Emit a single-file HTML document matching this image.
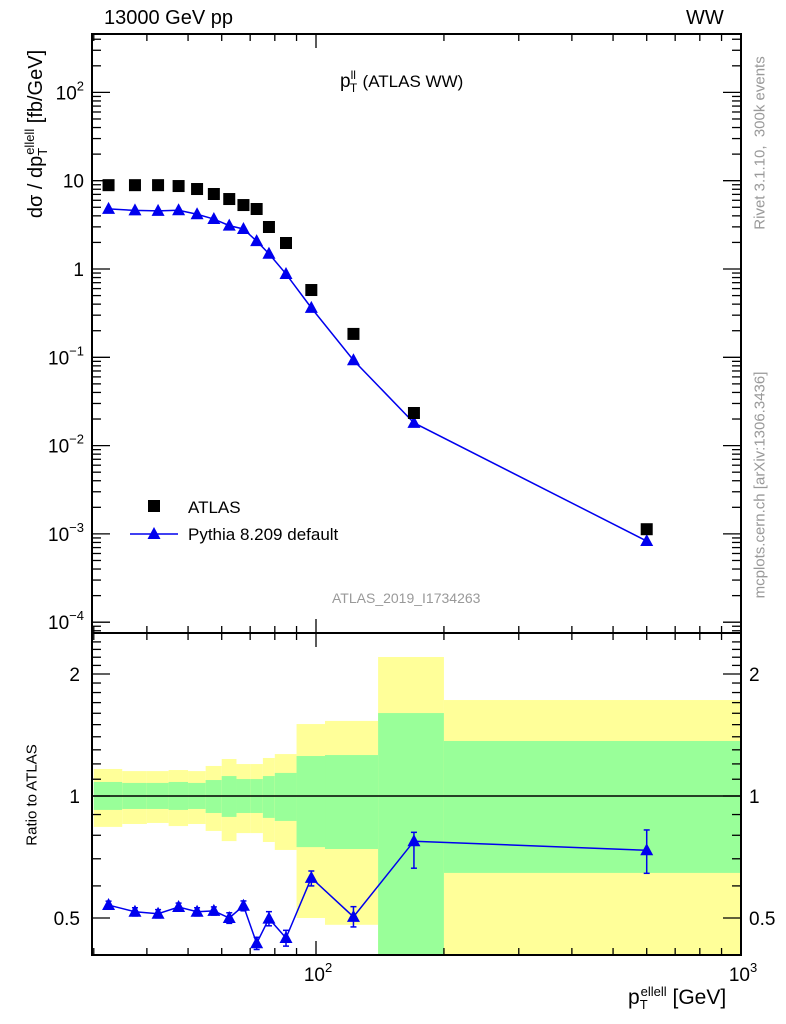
<!DOCTYPE html>
<html><head><meta charset="utf-8"><style>
body{margin:0;background:#fff;}
svg{display:block;font-family:"Liberation Sans",sans-serif;}
</style></head><body>
<svg id="c" width="786" height="1024" viewBox="0 0 786 1024" xmlns="http://www.w3.org/2000/svg"></svg>
<script>
const binEdges=[30,35,40,45,50,55,60,65,70,75,80,90,105,140,200,1000];
const atlasValues=[8.9,8.9,8.9,8.7,8.05,7.07,6.2,5.3,4.78,2.99,1.97,0.578,0.184,0.0234,0.00113];
const pythiaValues=[4.79,4.61,4.56,4.63,4.17,3.68,3.1,2.84,2.07,1.49,0.879,0.363,0.0926,0.0181,0.00083];
const ratioErrUp=[0.012,0.012,0.012,0.012,0.012,0.012,0.015,0.015,0.015,0.02,0.02,0.025,0.03,0.04,0.09];
const ratioErrDn=[0.012,0.012,0.012,0.012,0.012,0.012,0.015,0.015,0.015,0.02,0.02,0.028,0.028,0.11,0.09];
const yellowHi=[1.166,1.152,1.152,1.159,1.152,1.186,1.234,1.199,1.199,1.241,1.269,1.505,1.532,2.203,1.725];
const greenHi=[1.083,1.077,1.077,1.083,1.077,1.095,1.120,1.101,1.101,1.120,1.140,1.255,1.262,1.602,1.367];
const greenLo=[0.924,0.929,0.929,0.924,0.929,0.908,0.888,0.908,0.908,0.883,0.868,0.748,0.740,0.30,0.646];
const yellowLo=[0.839,0.853,0.858,0.843,0.853,0.820,0.774,0.810,0.810,0.770,0.736,0.500,0.481,0.30,0.30];
const xTickLabels=["10^2","10^3"];
const yMainTicks=[-4,-3,-2,-1,0,1,2];
const yRatioLabels=[0.5,1,2];

const NS="http://www.w3.org/2000/svg";
const svg=document.getElementById('c');
function el(tag,attrs,parent){const e=document.createElementNS(NS,tag);for(const k in attrs)e.setAttribute(k,attrs[k]);(parent||svg).appendChild(e);return e;}
const L=92,R=741,T=34,MB=633,RB=955;
const X=v=>316+425*(Math.log10(v)-2);
const YM=v=>269-88.3*Math.log10(v);
const YR=v=>796-122*Math.log2(v);

const gBand=el('g',{});


for(let i=0;i<atlasValues.length;i++){
  const x0=Math.max(X(binEdges[i]),L),x1=X(binEdges[i+1]);
  const clip=v=>Math.min(Math.max(YR(v),MB),RB);
  let r=el('rect',{x:x0,y:clip(yellowHi[i]),width:x1-x0,height:clip(yellowLo[i])-clip(yellowHi[i]),fill:'#ffff99'},gBand);
  
  
  r=el('rect',{x:x0,y:clip(greenHi[i]),width:x1-x0,height:clip(greenLo[i])-clip(greenHi[i]),fill:'#99ff99'},gBand);
  
  
}
el('line',{x1:L,x2:R,y1:YR(1),y2:YR(1),stroke:'#000','stroke-width':1.5});

el('rect',{x:L,y:T,width:R-L,height:MB-T,fill:'none',stroke:'#000','stroke-width':2});
el('rect',{x:L,y:MB,width:R-L,height:RB-MB,fill:'none',stroke:'#000','stroke-width':2});

function xticks(yb,yt){
  for(let d=1;d<=3;d++)for(let m=1;m<10;m++){
    const v=m*Math.pow(10,d);if(v<30||v>1000)continue;
    const x=X(v);const len=m==1?14:7;
    el('line',{x1:x,x2:x,y1:yb,y2:yb-len,stroke:'#000','stroke-width':1.3});
    el('line',{x1:x,x2:x,y1:yt,y2:yt+len,stroke:'#000','stroke-width':1.3});
  }
}
xticks(MB,T);xticks(RB,MB);
for(let d=-5;d<=3;d++)for(let m=1;m<10;m++){
  const y=YM(m*Math.pow(10,d));if(y<T||y>MB)continue;
  const len=m==1?18:9;
  el('line',{x1:L,x2:L+len,y1:y,y2:y,stroke:'#000','stroke-width':1.3});
  el('line',{x1:R,x2:R-len,y1:y,y2:y,stroke:'#000','stroke-width':1.3});
}
yMainTicks.forEach(p=>{
  const y=YM(Math.pow(10,p));
  const t=el('text',{x:L-8,y:y+7,'text-anchor':'end','font-size':19});
  
  
  if(p==0)t.textContent='1';else if(p==1)t.textContent='10';
  else{t.textContent='10';const s=el('tspan',{dy:-9,'font-size':13},t);s.textContent=String(p).replace('-','−');}
});
for(let v=0.4;v<=2.5;v+=0.1){
  const vv=Math.round(v*10)/10;const y=YR(vv);if(y<MB||y>RB)continue;
  const major=yRatioLabels.includes(vv);const len=major?18:9;
  el('line',{x1:L,x2:L+len,y1:y,y2:y,stroke:'#000','stroke-width':1.3});
  el('line',{x1:R,x2:R-len,y1:y,y2:y,stroke:'#000','stroke-width':1.3});
}
yRatioLabels.forEach(v=>{
  const y=YR(v)+7;
  let t=el('text',{x:L-12,y:y,'text-anchor':'end','font-size':19});t.textContent=String(v);
  
  
  t=el('text',{x:R+8,y:y,'font-size':19});t.textContent=String(v);
  
  
});
xTickLabels.forEach((s,i)=>{
  const x=X(Math.pow(10,i+2));
  const t=el('text',{x:x+2,y:RB+26,'text-anchor':'middle','font-size':19});
  
  
  t.textContent='10';const sp=el('tspan',{dy:-9,'font-size':13},t);sp.textContent=s.split('^')[1];
});

const mid=i=>(binEdges[i]+binEdges[i+1])/2;
function tri(x,y,parent,name){const p=el('path',{d:`M${x},${y-7}L${x+6.5},${y+5}L${x-6.5},${y+5}Z`,fill:'#0000ee'},parent);}
let pts=pythiaValues.map((v,i)=>X(mid(i))+','+YM(v)).join(' ');
el('polyline',{points:pts,fill:'none',stroke:'#0000ee','stroke-width':1.5});
const gp=el('g',{});
pythiaValues.forEach((v,i)=>tri(X(mid(i)),YM(v),gp,'pythia-point'));
const ga=el('g',{});
atlasValues.forEach((v,i)=>{const r=el('rect',{x:X(mid(i))-6,y:YM(v)-6,width:12,height:12,fill:'#000'},ga);});
const ratio=pythiaValues.map((v,i)=>v/atlasValues[i]);
pts=ratio.map((v,i)=>X(mid(i))+','+YR(v)).join(' ');
el('polyline',{points:pts,fill:'none',stroke:'#0000ee','stroke-width':1.5});
const gr=el('g',{});
ratio.forEach((v,i)=>{
  const x=X(mid(i)),y1=YR(v+ratioErrUp[i]),y2=YR(v-ratioErrDn[i]);
  el('line',{x1:x,x2:x,y1:y1,y2:y2,stroke:'#0000ee','stroke-width':1.5},gr);
  el('line',{x1:x-3,x2:x+3,y1:y1,y2:y1,stroke:'#0000ee','stroke-width':1.5},gr);
  el('line',{x1:x-3,x2:x+3,y1:y2,y2:y2,stroke:'#0000ee','stroke-width':1.5},gr);
  tri(x,YR(v),gr,'ratio-point');
});

const lg=el('g',{});
el('rect',{x:148,y:500,width:12,height:12,fill:'#000'},lg);
let t=el('text',{x:188,y:513,'font-size':17},lg);t.textContent='ATLAS';
el('line',{x1:130,x2:178,y1:534,y2:534,stroke:'#0000ee','stroke-width':1.5},lg);
tri(154,534,lg,'legend-pythia-marker');
t=el('text',{x:188,y:540,'font-size':17},lg);t.textContent='Pythia 8.209 default';
</script>
<div style="position:absolute;left:0;top:0;width:786px;height:1024px;font-family:'Liberation Sans',sans-serif;pointer-events:none">
<div style="position:absolute;left:104px;top:7px;font-size:20px">13000 GeV pp</div>
<div style="position:absolute;left:686px;top:7px;font-size:20px">WW</div>
<div style="position:absolute;left:340px;top:68px;font-size:19px">p<sup style="font-size:12px;vertical-align:8px">ll</sup><sub style="font-size:12px;margin-left:-6px">T</sub> <span style="font-size:17px">(ATLAS WW)</span></div>
<div style="position:absolute;left:332px;top:590px;font-size:14px;color:#999">ATLAS_2019_I1734263</div>
<div style="position:absolute;left:36px;top:134px;transform:translate(-50%,-50%) rotate(-90deg);white-space:nowrap;font-size:20px">dσ / dp<sub style="font-size:13px">T</sub><sup style="font-size:13px;margin-left:-7px">ellell</sup> [fb/GeV]</div>
<div style="position:absolute;left:32px;top:795px;transform:translate(-50%,-50%) rotate(-90deg);white-space:nowrap;font-size:15px">Ratio to ATLAS</div>
<div style="position:absolute;left:760px;top:143px;transform:translate(-50%,-50%) rotate(-90deg);white-space:nowrap;font-size:15px;color:#999">Rivet 3.1.10, &nbsp;300k events</div>
<div style="position:absolute;left:760px;top:485px;transform:translate(-50%,-50%) rotate(-90deg);white-space:nowrap;font-size:15px;color:#999">mcplots.cern.ch [arXiv:1306.3436]</div>
<div style="position:absolute;left:628px;top:984px;font-size:21px;white-space:nowrap">p<sub style="font-size:13px">T</sub><sup style="font-size:13px;margin-left:-7px">ellell</sup> [GeV]</div>
</div>
</body></html>
